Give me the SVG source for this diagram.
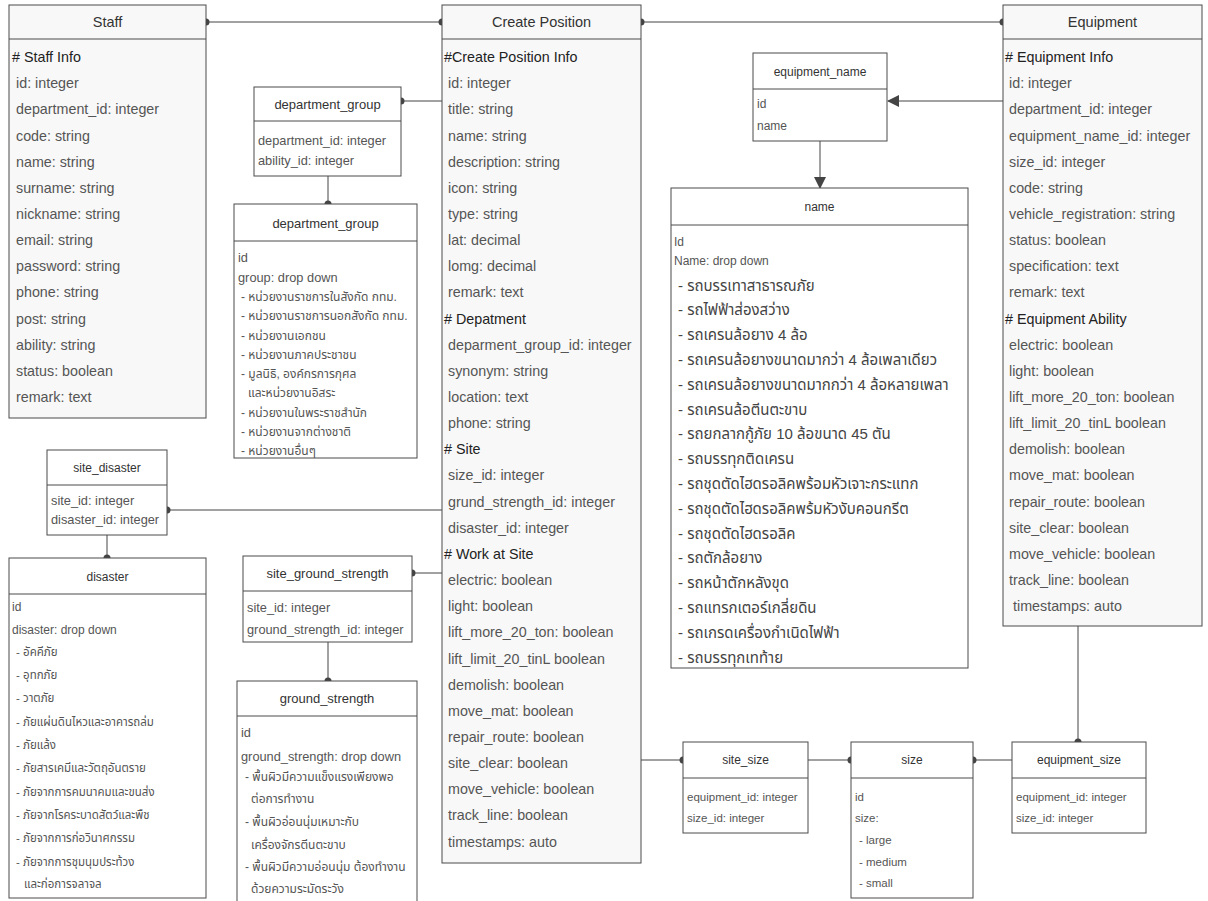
<svg xmlns="http://www.w3.org/2000/svg" width="1208" height="901" viewBox="0 0 1208 901">
<style>
.bg{fill:#ffffff}
.big{fill:#f8f8f8;stroke:#4a4a4a;stroke-width:1}
.box{fill:#ffffff;stroke:#4a4a4a;stroke-width:1}
.sep{stroke:#4a4a4a;stroke-width:1}
text{font-family:"Liberation Sans",Arial,"Noto Sans Thai","Noto Sans","DejaVu Sans",sans-serif;dominant-baseline:central}
.r{font-size:14.3px;fill:#555}
.h{font-size:14.3px;fill:#222}
.tt{font-size:14.5px;fill:#333;text-anchor:middle}
.st{font-size:12px;fill:#333;text-anchor:middle}
.s{font-size:12px;fill:#555}
.s11{font-size:11.5px;fill:#555}
.s13{font-size:12.8px;fill:#555}
.t13{font-size:13px}
.th{font-size:15px;fill:#444}
.conn{stroke:#444;stroke-width:1;fill:none}
.dot{fill:#444}
</style>
<defs>
<marker id="arr" markerWidth="12" markerHeight="12" refX="11" refY="6" orient="auto" markerUnits="userSpaceOnUse">
<path d="M0,0 L12,6 L0,12 z" fill="#444"/>
</marker>
</defs>
<rect class="bg" x="0" y="0" width="1208" height="901"/>

<g id="connectors">
<path class="conn" d="M206,22 H442"/>
<circle class="dot" cx="206" cy="22" r="3.5"/><circle class="dot" cx="442" cy="22" r="3.5"/>
<path class="conn" d="M641,22 H1003"/>
<circle class="dot" cx="641" cy="22" r="3.5"/><circle class="dot" cx="1003" cy="22" r="3.5"/>
<path class="conn" d="M401,101 H442"/>
<circle class="dot" cx="401" cy="101" r="3.5"/>
<path class="conn" d="M328,176 V204"/>
<circle class="dot" cx="328" cy="204" r="3.5"/>
<path class="conn" d="M167,510 H442"/>
<circle class="dot" cx="167" cy="510" r="3.5"/>
<path class="conn" d="M107,535 V558"/>
<circle class="dot" cx="107" cy="558" r="3.5"/>
<path class="conn" d="M412,573 H442"/>
<circle class="dot" cx="412" cy="573" r="3.5"/>
<path class="conn" d="M328,642 V681"/>
<circle class="dot" cx="328" cy="681" r="3.5"/>
<path class="conn" d="M1003,101 H888" marker-end="url(#arr)"/>
<path class="conn" d="M820,141 V188" marker-end="url(#arr)"/>
<path class="conn" d="M641,760 H683"/>
<circle class="dot" cx="683" cy="760" r="3.5"/>
<path class="conn" d="M808,760 H851"/>
<circle class="dot" cx="851" cy="760" r="3.5"/>
<path class="conn" d="M973,760 H1012"/>
<circle class="dot" cx="973" cy="760" r="3.5"/>
<path class="conn" d="M1078,626 V742"/>
<circle class="dot" cx="1078" cy="742" r="3.5"/>
</g>

<g id="staff">
<rect class="big" x="9" y="5" width="197" height="413"/>
<line class="sep" x1="9" y1="39" x2="206" y2="39"/>
<text class="tt" x="107.5" y="22">Staff</text>
<text class="h" x="12" y="57"># Staff Info</text>
<text class="r" x="16" y="83.2">id: integer</text>
<text class="r" x="16" y="109.3">department_id: integer</text>
<text class="r" x="16" y="135.5">code: string</text>
<text class="r" x="16" y="161.6">name: string</text>
<text class="r" x="16" y="187.8">surname: string</text>
<text class="r" x="16" y="213.9">nickname: string</text>
<text class="r" x="16" y="240">email: string</text>
<text class="r" x="16" y="266.2">password: string</text>
<text class="r" x="16" y="292.4">phone: string</text>
<text class="r" x="16" y="318.5">post: string</text>
<text class="r" x="16" y="344.7">ability: string</text>
<text class="r" x="16" y="370.8">status: boolean</text>
<text class="r" x="16" y="397">remark: text</text>
</g>

<g id="create-position">
<rect class="big" x="442" y="5" width="199" height="858"/>
<line class="sep" x1="442" y1="39" x2="641" y2="39"/>
<text class="tt" x="541.5" y="22">Create Position</text>
<text class="h" x="444" y="57">#Create Position Info</text>
<text class="r" x="448" y="83.2">id: integer</text>
<text class="r" x="448" y="109.3">title: string</text>
<text class="r" x="448" y="135.5">name: string</text>
<text class="r" x="448" y="161.6">description: string</text>
<text class="r" x="448" y="187.8">icon: string</text>
<text class="r" x="448" y="213.9">type: string</text>
<text class="r" x="448" y="240">lat: decimal</text>
<text class="r" x="448" y="266.2">lomg: decimal</text>
<text class="r" x="448" y="292.4">remark: text</text>
<text class="h" x="444" y="318.5"># Depatment</text>
<text class="r" x="448" y="344.7">deparment_group_id: integer</text>
<text class="r" x="448" y="370.8">synonym: string</text>
<text class="r" x="448" y="397">location: text</text>
<text class="r" x="448" y="423.1">phone: string</text>
<text class="h" x="444" y="449.3"># Site</text>
<text class="r" x="448" y="475.4">size_id: integer</text>
<text class="r" x="448" y="501.6">grund_strength_id: integer</text>
<text class="r" x="448" y="527.7">disaster_id: integer</text>
<text class="h" x="444" y="553.9"># Work at Site</text>
<text class="r" x="448" y="580">electric: boolean</text>
<text class="r" x="448" y="606.2">light: boolean</text>
<text class="r" x="448" y="632.3">lift_more_20_ton: boolean</text>
<text class="r" x="448" y="658.5">lift_limit_20_tinL boolean</text>
<text class="r" x="448" y="684.6">demolish: boolean</text>
<text class="r" x="448" y="710.8">move_mat: boolean</text>
<text class="r" x="448" y="736.9">repair_route: boolean</text>
<text class="r" x="448" y="763.1">site_clear: boolean</text>
<text class="r" x="448" y="789.2">move_vehicle: boolean</text>
<text class="r" x="448" y="815.4">track_line: boolean</text>
<text class="r" x="448" y="841.5">timestamps: auto</text>
</g>

<g id="equipment">
<rect class="big" x="1003" y="5" width="199" height="621"/>
<line class="sep" x1="1003" y1="39" x2="1202" y2="39"/>
<text class="tt" x="1102.5" y="22">Equipment</text>
<text class="h" x="1005" y="57"># Equipment Info</text>
<text class="r" x="1009" y="83.2">id: integer</text>
<text class="r" x="1009" y="109.3">department_id: integer</text>
<text class="r" x="1009" y="135.5">equipment_name_id: integer</text>
<text class="r" x="1009" y="161.6">size_id: integer</text>
<text class="r" x="1009" y="187.8">code: string</text>
<text class="r" x="1009" y="213.9">vehicle_registration: string</text>
<text class="r" x="1009" y="240">status: boolean</text>
<text class="r" x="1009" y="266.2">specification: text</text>
<text class="r" x="1009" y="292.4">remark: text</text>
<text class="h" x="1005" y="318.5"># Equipment Ability</text>
<text class="r" x="1009" y="344.7">electric: boolean</text>
<text class="r" x="1009" y="370.8">light: boolean</text>
<text class="r" x="1009" y="397">lift_more_20_ton: boolean</text>
<text class="r" x="1009" y="423.1">lift_limit_20_tinL boolean</text>
<text class="r" x="1009" y="449.3">demolish: boolean</text>
<text class="r" x="1009" y="475.4">move_mat: boolean</text>
<text class="r" x="1009" y="501.6">repair_route: boolean</text>
<text class="r" x="1009" y="527.7">site_clear: boolean</text>
<text class="r" x="1009" y="553.9">move_vehicle: boolean</text>
<text class="r" x="1009" y="580">track_line: boolean</text>
<text class="r" x="1013" y="606.2">timestamps: auto</text>
</g>

<g id="department-group-link">
<rect class="box" x="254" y="87" width="147" height="89"/>
<line class="sep" x1="254" y1="121" x2="401" y2="121"/>
<text class="st t13" x="327.5" y="104">department_group</text>
<text class="s13" x="258" y="140">department_id: integer</text>
<text class="s13" x="258" y="160">ability_id: integer</text>
</g>

<g id="department-group">
<rect class="box" x="234" y="204" width="183" height="254"/>
<line class="sep" x1="234" y1="241" x2="417" y2="241"/>
<text class="st t13" x="325.5" y="223">department_group</text>
<text class="s13" x="238" y="257">id</text>
<text class="s13" x="238" y="277">group: drop down</text>
<text class="s" x="241" y="297">- หน่วยงานราชการในสังกัด กทม.</text>
<text class="s" x="241" y="316">- หน่วยงานราชการนอกสังกัด กทม.</text>
<text class="s" x="241" y="336">- หน่วยงานเอกชน</text>
<text class="s" x="241" y="355">- หน่วยงานภาคประชาชน</text>
<text class="s" x="241" y="374">- มูลนิธิ, องค์กรการกุศล</text>
<text class="s" x="248" y="393">และหน่วยงานอิสระ</text>
<text class="s" x="241" y="413">- หน่วยงานในพระราชสำนัก</text>
<text class="s" x="241" y="432">- หน่วยงานจากต่างชาติ</text>
<text class="s" x="241" y="451">- หน่วยงานอื่นๆ</text>
</g>

<g id="site-disaster">
<rect class="box" x="47" y="450" width="120" height="85"/>
<line class="sep" x1="47" y1="485" x2="167" y2="485"/>
<text class="st" x="107" y="468">site_disaster</text>
<text class="s13" x="51" y="500">site_id: integer</text>
<text class="s13" x="51" y="519">disaster_id: integer</text>
</g>

<g id="disaster">
<rect class="box" x="9" y="558" width="197" height="340"/>
<line class="sep" x1="9" y1="594" x2="206" y2="594"/>
<text class="st" x="107.5" y="577">disaster</text>
<text class="s" x="12" y="607">id</text>
<text class="s" x="12" y="630">disaster: drop down</text>
<text class="s11" x="16" y="652">- อัคคีภัย</text>
<text class="s11" x="16" y="675">- อุทกภัย</text>
<text class="s11" x="16" y="698">- วาตภัย</text>
<text class="s11" x="16" y="722">- ภัยแผ่นดินไหวและอาคารถล่ม</text>
<text class="s11" x="16" y="745">- ภัยแล้ง</text>
<text class="s11" x="16" y="768">- ภัยสารเคมีและวัตถุอันตราย</text>
<text class="s11" x="16" y="792">- ภัยจากการคมนาคมและขนส่ง</text>
<text class="s11" x="16" y="815">- ภัยจากโรคระบาดสัตว์และพืช</text>
<text class="s11" x="16" y="838">- ภัยจากการก่อวินาศกรรม</text>
<text class="s11" x="16" y="862">- ภัยจากการชุมนุมประท้วง</text>
<text class="s11" x="24" y="884">และก่อการจลาจล</text>
</g>

<g id="site-ground-strength">
<rect class="box" x="243" y="556" width="169" height="86"/>
<line class="sep" x1="243" y1="591" x2="412" y2="591"/>
<text class="st t13" x="327.5" y="573">site_ground_strength</text>
<text class="s13" x="247" y="607">site_id: integer</text>
<text class="s13" x="247" y="629">ground_strength_id: integer</text>
</g>

<g id="ground-strength">
<rect class="box" x="237" y="681" width="180" height="225"/>
<line class="sep" x1="237" y1="716" x2="417" y2="716"/>
<text class="st t13" x="327" y="698">ground_strength</text>
<text class="s13" x="241" y="732">id</text>
<text class="s13" x="241" y="756">ground_strength: drop down</text>
<text class="s" x="245" y="777">- พื้นผิวมีความแข็งแรงเพียงพอ</text>
<text class="s" x="251" y="799">ต่อการทำงาน</text>
<text class="s" x="245" y="822">- พื้นผิวอ่อนนุ่มเหมาะกับ</text>
<text class="s" x="251" y="845">เครื่องจักรตีนตะขาบ</text>
<text class="s" x="245" y="867">- พื้นผิวมีความอ่อนนุ่ม ต้องทำงาน</text>
<text class="s" x="251" y="889">ด้วยความระมัดระวัง</text>
</g>

<g id="equipment-name">
<rect class="box" x="753" y="53" width="134" height="88"/>
<line class="sep" x1="753" y1="89" x2="887" y2="89"/>
<text class="st" x="820" y="72">equipment_name</text>
<text class="s" x="757" y="104">id</text>
<text class="s" x="757" y="126">name</text>
</g>

<g id="name">
<rect class="box" x="671" y="188" width="297" height="480"/>
<line class="sep" x1="671" y1="225" x2="968" y2="225"/>
<text class="st" x="819.5" y="207">name</text>
<text class="s" x="674" y="242">Id</text>
<text class="s" x="674" y="261">Name: drop down</text>
<text class="th" x="678" y="285">- รถบรรเทาสาธารณภัย</text>
<text class="th" x="678" y="309.8">- รถไฟฟ้าส่องสว่าง</text>
<text class="th" x="678" y="334.6">- รถเครนล้อยาง 4 ล้อ</text>
<text class="th" x="678" y="359.4">- รถเครนล้อยางขนาดมากว่า 4 ล้อเพลาเดียว</text>
<text class="th" x="678" y="384.2">- รถเครนล้อยางขนาดมากกว่า 4 ล้อหลายเพลา</text>
<text class="th" x="678" y="409">- รถเครนล้อตีนตะขาบ</text>
<text class="th" x="678" y="433.8">- รถยกลากกู้ภัย 10 ล้อขนาด 45 ตัน</text>
<text class="th" x="678" y="458.6">- รถบรรทุกติดเครน</text>
<text class="th" x="678" y="483.4">- รถชุดตัดไฮดรอลิคพร้อมหัวเจาะกระแทก</text>
<text class="th" x="678" y="508.2">- รถชุดตัดไฮดรอลิคพร้มหัวงับคอนกรีต</text>
<text class="th" x="678" y="533">- รถชุดตัดไฮดรอลิค</text>
<text class="th" x="678" y="557.8">- รถตักล้อยาง</text>
<text class="th" x="678" y="582.6">- รถหน้าตักหลังขุด</text>
<text class="th" x="678" y="607.4">- รถแทรกเตอร์เกลี่ยดิน</text>
<text class="th" x="678" y="632.2">- รถเกรดเครื่องกำเนิดไฟฟ้า</text>
<text class="th" x="678" y="657">- รถบรรทุกเทท้าย</text>
</g>

<g id="site-size">
<rect class="box" x="683" y="742" width="125" height="91"/>
<line class="sep" x1="683" y1="778" x2="808" y2="778"/>
<text class="st" x="745.5" y="760">site_size</text>
<text class="s11" x="687" y="797">equipment_id: integer</text>
<text class="s11" x="687" y="818">size_id: integer</text>
</g>

<g id="size">
<rect class="box" x="851" y="742" width="122" height="156"/>
<line class="sep" x1="851" y1="778" x2="973" y2="778"/>
<text class="st" x="912" y="760">size</text>
<text class="s11" x="855" y="797">id</text>
<text class="s11" x="855" y="818">size:</text>
<text class="s11" x="859" y="840">- large</text>
<text class="s11" x="859" y="862">- medium</text>
<text class="s11" x="859" y="883">- small</text>
</g>

<g id="equipment-size">
<rect class="box" x="1012" y="742" width="134" height="91"/>
<line class="sep" x1="1012" y1="778" x2="1146" y2="778"/>
<text class="st" x="1079" y="760">equipment_size</text>
<text class="s11" x="1016" y="797">equipment_id: integer</text>
<text class="s11" x="1016" y="818">size_id: integer</text>
</g>
</svg>
